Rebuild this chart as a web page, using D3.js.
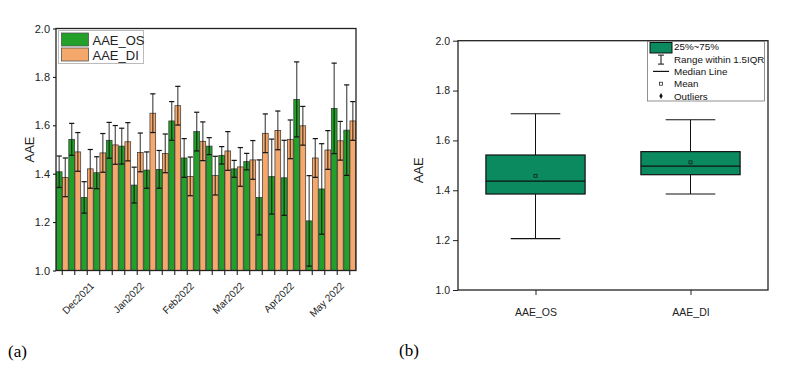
<!DOCTYPE html>
<html>
<head>
<meta charset="utf-8">
<script src="https://cdn.jsdelivr.net/npm/d3@7"></script>
<style>
  body { margin: 0; background: #fff; }
  svg { display: block; font-family: "Liberation Sans", Arial, sans-serif; }
</style>
</head>
<body>
<svg id="chart"></svg>
<script>
// ---- data ----
const weeks = ["w1","w2","w3","w4","w5","w6","w7","w8","w9","w10","w11","w12",
  "w13","w14","w15","w16","w17","w18","w19","w20","w21","w22","w23","w24"];
const aaeOS = [1.408,1.542,1.302,1.404,1.538,1.514,1.353,1.415,1.418,1.618,1.465,1.574,
  1.514,1.476,1.420,1.450,1.302,1.388,1.383,1.707,1.205,1.337,1.670,1.580];
const osErr = [0.065,0.066,0.065,0.066,0.074,0.074,0.074,0.075,0.078,0.080,0.080,0.080,
  0.035,0.036,0.035,0.034,0.155,0.155,0.155,0.155,0.187,0.187,0.187,0.187];
const aaeDI = [1.385,1.490,1.420,1.486,1.519,1.532,1.488,1.650,1.484,1.681,1.389,1.534,
  1.392,1.494,1.428,1.457,1.567,1.579,1.542,1.598,1.465,1.498,1.536,1.618];
const diErr = [0.080,0.080,0.080,0.080,0.080,0.079,0.080,0.080,0.080,0.080,0.080,0.080,
  0.080,0.080,0.080,0.080,0.080,0.080,0.080,0.080,0.080,0.080,0.080,0.080];
const monthLabels = ["Dec2021","Jan2022","Feb2022","Mar2022","Apr2022","May 2022"];
const monthAt = ["w4","w8","w12","w16","w20","w24"];
const yTicks = [1.0, 1.2, 1.4, 1.6, 1.8, 2.0];

const boxCats = ["AAE_OS","AAE_DI"];
const boxQ1 = [1.385, 1.4625];
const boxMedian = [1.437, 1.497];
const boxQ3 = [1.5415, 1.555];
const boxLow = [1.206, 1.385];
const boxHigh = [1.707, 1.683];
const boxMean = [1.458, 1.512];

const greenFill = "#22a02a";
const orangeFill = "#f5a86b";
const boxFill = "#0a8a5e";

const width = 787;
const height = 372;
const svg = d3.select("#chart").attr("width", width).attr("height", height);

// ================= (a) bar chart =================
const marginA = { left: 56, right: 356, top: 28.5, bottom: 270.5 };

const xA = d3.scaleBand().domain(weeks).range([marginA.left, marginA.right]).padding(0);
const subA = d3.scaleBand().domain(["os", "di"]).range([0, xA.bandwidth()])
  .paddingInner(0.06).paddingOuter(0.05);
const yA = d3.scaleLinear().domain([1, 2]).range([marginA.bottom, marginA.top]);

const rowsA = weeks.map((w, i) => ({
  week: w,
  series: [
    { key: "os", v: aaeOS[i], e: osErr[i], fill: greenFill },
    { key: "di", v: aaeDI[i], e: diErr[i], fill: orangeFill }
  ]
}));

const gA = svg.append("g");

const groupsA = gA.selectAll("g.week")
  .data(rowsA)
  .join("g")
  .attr("class", "week")
  .attr("transform", (d) => `translate(${xA(d.week)},0)`);

groupsA.selectAll("rect")
  .data((d) => d.series)
  .join("rect")
  .attr("x", (d) => subA(d.key))
  .attr("width", subA.bandwidth())
  .attr("y", (d) => yA(d.v))
  .attr("height", (d) => yA(1) - yA(d.v))
  .attr("fill", (d) => d.fill)
  .attr("stroke", "#333")
  .attr("stroke-width", 0.7);

// error bars
const errG = groupsA.selectAll("g.err")
  .data((d) => d.series)
  .join("g")
  .attr("class", "err")
  .attr("transform", (d) => `translate(${subA(d.key) + subA.bandwidth() / 2},0)`);

errG.append("line")
  .attr("y1", (d) => yA(d.v + d.e))
  .attr("y2", (d) => yA(d.v - d.e))
  .attr("stroke", "#000")
  .attr("stroke-opacity", 0.6)
  .attr("stroke-width", 1.4);

errG.selectAll("line.cap")
  .data((d) => [d.v + d.e, d.v - d.e])
  .join("line")
  .attr("class", "cap")
  .attr("x1", -2.6)
  .attr("x2", 2.6)
  .attr("y1", (d) => yA(d))
  .attr("y2", (d) => yA(d))
  .attr("stroke", "#111")
  .attr("stroke-width", 1.2);

// axes
gA.append("g")
  .attr("transform", `translate(${marginA.left},0)`)
  .call(d3.axisLeft(yA).tickValues(yTicks).tickFormat(d3.format(".1f")).tickSize(3).tickPadding(3))
  .call((g) => g.select(".domain").remove())
  .call((g) => g.selectAll("text").attr("font-size", 11).attr("fill", "#222").attr("font-family", "Liberation Sans, Arial, sans-serif"));

gA.append("g")
  .attr("transform", `translate(0,${marginA.bottom})`)
  .call(d3.axisBottom(xA).tickSize(4.5).tickFormat(""))
  .call((g) => g.select(".domain").remove())
  .call((g) => g.selectAll("line").attr("stroke", "#222").attr("stroke-width", 1.1));

gA.append("rect")
  .attr("x", marginA.left)
  .attr("y", marginA.top)
  .attr("width", marginA.right - marginA.left)
  .attr("height", marginA.bottom - marginA.top)
  .attr("fill", "none")
  .attr("stroke", "#222")
  .attr("stroke-width", 1.3);

gA.selectAll(".monthLabel")
  .data(monthLabels)
  .join("text")
  .attr("class", "monthLabel")
  .attr("text-anchor", "end")
  .attr("font-size", 10)
  .attr("fill", "#222")
  .attr("transform", (d, i) => `translate(${xA(monthAt[i]) + xA.bandwidth() / 2 - 5},${marginA.bottom + 16}) rotate(-45)`)
  .text((d) => d);

gA.append("text")
  .attr("text-anchor", "middle")
  .attr("font-size", 13)
  .attr("fill", "#222")
  .attr("transform", `translate(34,${(marginA.top + marginA.bottom) / 2}) rotate(-90)`)
  .text("AAE");

// legend (a)
const legA = gA.append("g").attr("transform", "translate(58.5,30.5)");
legA.append("rect")
  .attr("width", 85)
  .attr("height", 33)
  .attr("fill", "#fff")
  .attr("stroke", "#bbb");
legA.selectAll("g.item")
  .data([{ name: "AAE_OS", fill: greenFill }, { name: "AAE_DI", fill: orangeFill }])
  .join("g")
  .attr("class", "item")
  .attr("transform", (d, i) => `translate(3,${2.5 + i * 15})`)
  .call((g) => g.append("rect")
    .attr("width", 27)
    .attr("height", 13)
    .attr("fill", (d) => d.fill)
    .attr("stroke", "#555")
    .attr("stroke-width", 0.8))
  .call((g) => g.append("text")
    .attr("x", 31)
    .attr("y", 11.5)
    .attr("font-size", 13)
    .attr("fill", "#222")
    .text((d) => d.name));

svg.append("text")
  .attr("x", 8)
  .attr("y", 357)
  .attr("font-family", "Liberation Serif, Times New Roman, serif")
  .attr("font-size", 17)
  .attr("fill", "#000")
  .text("(a)");

// ================= (b) box chart =================
const marginB = { left: 458, right: 768, top: 40.7, bottom: 290 };

const xB = d3.scalePoint().domain(boxCats).range([marginB.left, marginB.right]).padding(0.5);
const yB = d3.scaleLinear().domain([1, 2]).range([marginB.bottom, marginB.top]);
const boxW = xB.step() * 0.64;
const capW = boxW / 2;

const rowsB = boxCats.map((c, i) => ({
  cat: c, q1: boxQ1[i], med: boxMedian[i], q3: boxQ3[i],
  lo: boxLow[i], hi: boxHigh[i], mean: boxMean[i]
}));

const gB = svg.append("g");

gB.append("g")
  .attr("transform", `translate(${marginB.left},0)`)
  .call(d3.axisLeft(yB).tickValues(yTicks).tickFormat(d3.format(".1f")).tickSize(5).tickPadding(3))
  .call((g) => g.select(".domain").remove())
  .call((g) => g.selectAll("line").attr("stroke", "#222"))
  .call((g) => g.selectAll("text").attr("font-size", 10.5).attr("fill", "#222").attr("font-family", "Liberation Sans, Arial, sans-serif"));

gB.append("g")
  .attr("transform", `translate(0,${marginB.bottom})`)
  .call(d3.axisBottom(xB).tickSize(5).tickPadding(14))
  .call((g) => g.select(".domain").remove())
  .call((g) => g.selectAll("line").attr("stroke", "#222"))
  .call((g) => g.selectAll("text").attr("font-size", 10.5).attr("fill", "#222").attr("font-family", "Liberation Sans, Arial, sans-serif"));

gB.append("rect")
  .attr("x", marginB.left)
  .attr("y", marginB.top)
  .attr("width", marginB.right - marginB.left)
  .attr("height", marginB.bottom - marginB.top)
  .attr("fill", "none")
  .attr("stroke", "#222")
  .attr("stroke-width", 1.3);

const boxes = gB.selectAll("g.box")
  .data(rowsB)
  .join("g")
  .attr("class", "box")
  .attr("transform", (d) => `translate(${xB(d.cat)},0)`);

// whiskers
boxes.append("line")
  .attr("y1", (d) => yB(d.hi))
  .attr("y2", (d) => yB(d.q3))
  .attr("stroke", "#111");
boxes.append("line")
  .attr("y1", (d) => yB(d.q1))
  .attr("y2", (d) => yB(d.lo))
  .attr("stroke", "#111");
boxes.selectAll("line.cap")
  .data((d) => [d.hi, d.lo])
  .join("line")
  .attr("class", "cap")
  .attr("x1", -capW / 2)
  .attr("x2", capW / 2)
  .attr("y1", (d) => yB(d))
  .attr("y2", (d) => yB(d))
  .attr("stroke", "#111")
  .attr("stroke-width", 1.2);

boxes.append("rect")
  .attr("x", -boxW / 2)
  .attr("width", boxW)
  .attr("y", (d) => yB(d.q3))
  .attr("height", (d) => yB(d.q1) - yB(d.q3))
  .attr("fill", boxFill)
  .attr("stroke", "#111")
  .attr("stroke-width", 1.2);

boxes.append("line")
  .attr("x1", -boxW / 2)
  .attr("x2", boxW / 2)
  .attr("y1", (d) => yB(d.med))
  .attr("y2", (d) => yB(d.med))
  .attr("stroke", "#111")
  .attr("stroke-width", 1.2);

boxes.append("rect")
  .attr("x", -1.5)
  .attr("y", (d) => yB(d.mean) - 1.5)
  .attr("width", 3)
  .attr("height", 3)
  .attr("fill", "none")
  .attr("stroke", "#111")
  .attr("stroke-width", 0.7);

gB.append("text")
  .attr("text-anchor", "middle")
  .attr("font-size", 13)
  .attr("fill", "#222")
  .attr("transform", `translate(423,${(marginB.top + marginB.bottom) / 2 + 5}) rotate(-90)`)
  .text("AAE");

// legend (b)
const legB = gB.append("g").attr("transform", "translate(647.5,41.5)");
legB.append("rect")
  .attr("width", 117)
  .attr("height", 59.5)
  .attr("fill", "#fff")
  .attr("stroke", "#777")
  .attr("stroke-width", 0.8);

const legItemsB = ["25%~75%", "Range within 1.5IQR", "Median Line", "Mean", "Outliers"];
const itemsB = legB.selectAll("g.item")
  .data(legItemsB)
  .join("g")
  .attr("class", "item")
  .attr("transform", (d, i) => `translate(0,${5.3 + i * 12.3})`);

itemsB.append("text")
  .attr("x", 26.5)
  .attr("y", 3.6)
  .attr("font-size", 9.8)
  .attr("fill", "#111")
  .text((d) => d);

itemsB.filter((d, i) => i === 0).append("rect")
  .attr("x", 2.5).attr("y", -4.3).attr("width", 22).attr("height", 10.5)
  .attr("fill", boxFill).attr("stroke", "#111").attr("stroke-width", 1);
const ibeam = itemsB.filter((d, i) => i === 1);
ibeam.append("line").attr("x1", 13.5).attr("x2", 13.5).attr("y1", -4).attr("y2", 5).attr("stroke", "#111");
ibeam.append("line").attr("x1", 10.5).attr("x2", 16.5).attr("y1", -4).attr("y2", -4).attr("stroke", "#111");
ibeam.append("line").attr("x1", 10.5).attr("x2", 16.5).attr("y1", 5).attr("y2", 5).attr("stroke", "#111");
itemsB.filter((d, i) => i === 2).append("line")
  .attr("x1", 5.5).attr("x2", 21.5).attr("y1", 0).attr("y2", 0).attr("stroke", "#111").attr("stroke-width", 1.2);
itemsB.filter((d, i) => i === 3).append("rect")
  .attr("x", 12).attr("y", -1.5).attr("width", 3).attr("height", 3)
  .attr("fill", "none").attr("stroke", "#111").attr("stroke-width", 0.7);
itemsB.filter((d, i) => i === 4).append("path")
  .attr("d", d3.symbol(d3.symbolDiamond, 10)())
  .attr("transform", "translate(13.5,0)")
  .attr("fill", "#111");

svg.append("text")
  .attr("x", 399)
  .attr("y", 356)
  .attr("font-family", "Liberation Serif, Times New Roman, serif")
  .attr("font-size", 17)
  .attr("fill", "#000")
  .text("(b)");
</script>
</body>
</html>
